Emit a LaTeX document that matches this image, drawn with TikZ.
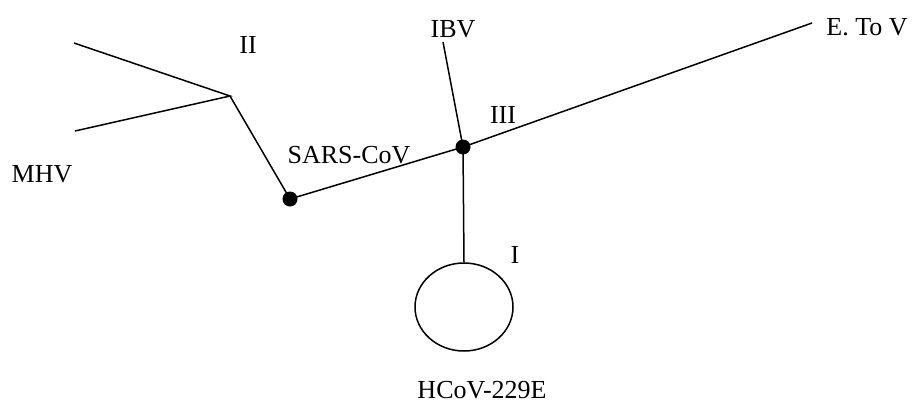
\documentclass[tikz,border=0pt]{standalone}
\usepackage{fontspec}
\setmainfont{Liberation Serif}
\usetikzlibrary{shapes.geometric}
\tikzset{
    branch/.style={line width=1.5pt},
    lbl/.style={font=\fontsize{26}{30}\selectfont, inner sep=0pt, text depth=0pt, anchor=base},
}
\begin{document}
\begin{tikzpicture}[x=1pt, y=-1pt]
            \useasboundingbox (0,0) rectangle (913,405);
            % Branch points
            \coordinate (mhvA) at (74,43);
            \coordinate (mhvB) at (75,131);
            \coordinate (jII) at (230,96);
            \coordinate (dSars) at (290,199);
            \coordinate (dIII) at (463,147);
            \coordinate (ibv) at (443,42);
            \coordinate (etov) at (812,23);
            \node[draw, branch, ellipse, minimum width=98pt, minimum height=88pt, inner sep=0pt] (hcov) at (464,307) {};
            % Tree
            \draw[branch] (mhvA) -- (jII) -- (mhvB);
            \draw[branch] (jII) -- (dSars) -- (dIII) -- (etov);
            \draw[branch] (ibv) -- (dIII) -- (hcov.north);
            \foreach \p in {dSars, dIII} {
                \fill (\p) circle (7.5pt);
            }
            % Labels
            \node[lbl] (lII) at (248,53) {II};
            \node[lbl] (lMHV) at (42,182) {MHV};
            \node[lbl] (lSARS) at (349,163) {SARS-CoV};
            \node[lbl] (lIBV) at (453,37) {IBV};
            \node[lbl] (lIII) at (503,123) {III};
            \node[lbl] (lETOV) at (867,35) {E. To V};
            \node[lbl] (lI) at (515,263) {I};
            \node[lbl] (lHCOV) at (482,398) {HCoV-229E};
        \end{tikzpicture}
\end{document}
